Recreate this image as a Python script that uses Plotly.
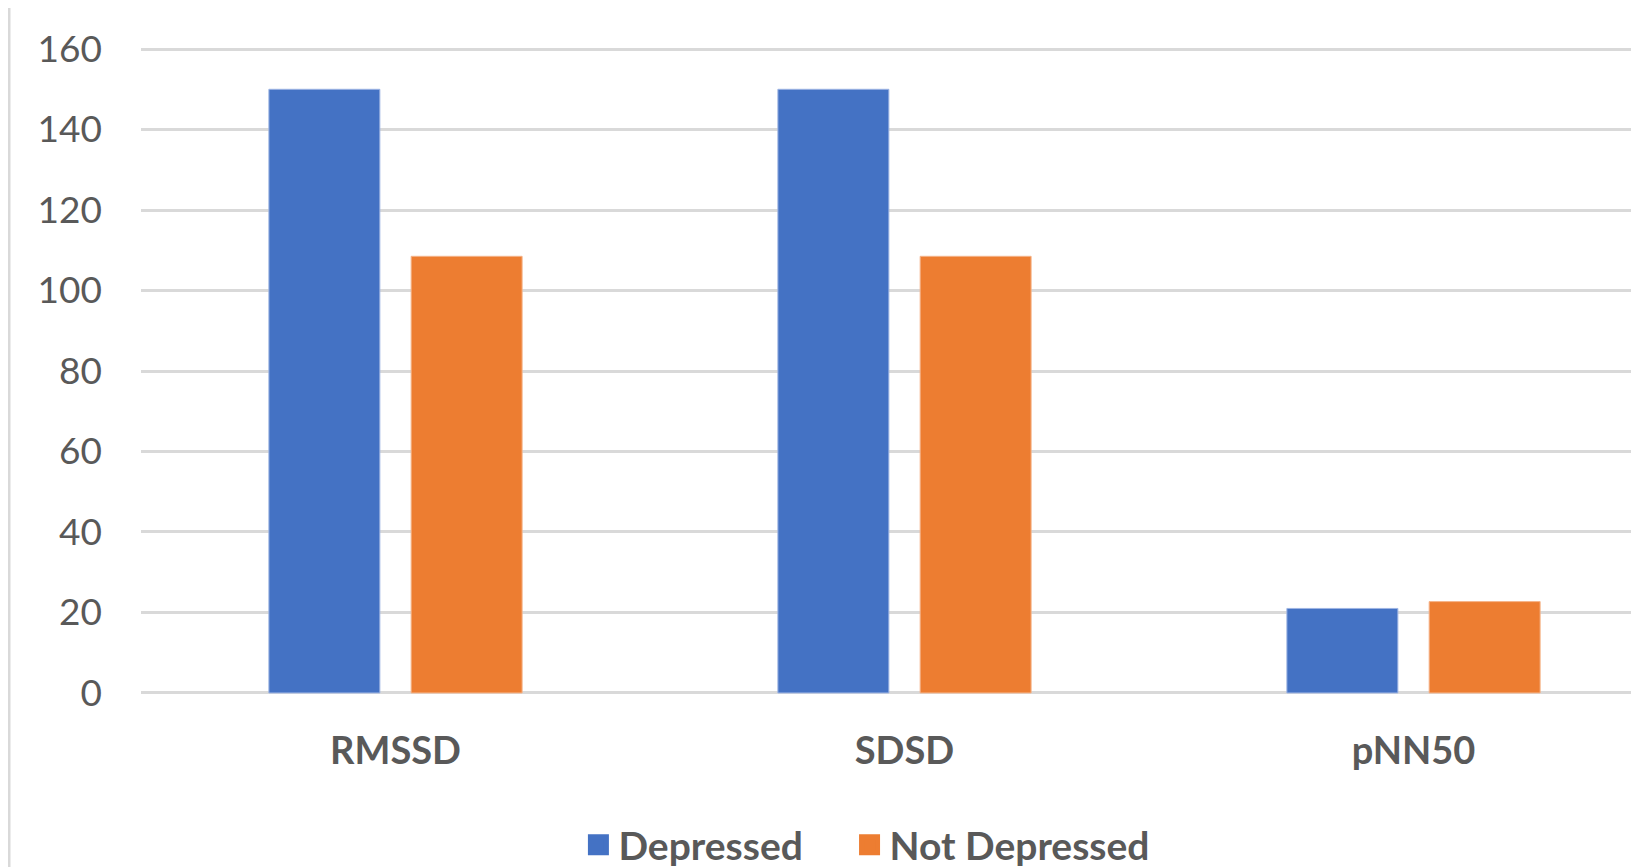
import plotly.graph_objects as go

categories = ["RMSSD", "SDSD", "pNN50"]
depressed = [150, 150, 21]
not_depressed = [108.5, 108.5, 22.7]
y_ticks = [0, 20, 40, 60, 80, 100, 120, 140, 160]

BLUE = "#4472C4"
ORANGE = "#ED7D31"
TEXT = "#595959"
GRID = "#D9D9D9"
FONT = "Lato"

# page body has an 8px default margin, so the figure is offset by 8px
W, H = 1631, 859
L, R, T, B = 133, 0, 33, 166

fig = go.Figure()
fig.add_bar(x=categories, y=depressed, name="Depressed", marker_color=BLUE,
            marker_line=dict(color="#9DB4E3", width=1), showlegend=False)
fig.add_bar(x=categories, y=not_depressed, name="Not Depressed", marker_color=ORANGE,
            marker_line=dict(color="#F5B48A", width=1), showlegend=False)
# legend proxies
fig.add_scatter(x=[None], y=[None], mode="markers", name="Depressed", legend="legend",
                marker=dict(symbol="square", size=16, color=BLUE, line=dict(color=BLUE, width=5)))
fig.add_scatter(x=[None], y=[None], mode="markers", name="Not Depressed", legend="legend2",
                marker=dict(symbol="square", size=16, color=ORANGE, line=dict(color=ORANGE, width=5)))

legend_common = dict(orientation="h", xanchor="left", y=0.0256, yanchor="middle",
                     yref="container",
                     font=dict(family=FONT, size=39, color=TEXT, weight="bold"),
                     itemsizing="trace", bgcolor="rgba(0,0,0,0)", borderwidth=0)

fig.update_layout(
    template="none",
    width=W, height=H,
    margin=dict(l=L, r=R, t=T, b=B, pad=0, autoexpand=False),
    paper_bgcolor="white", plot_bgcolor="white",
    barmode="group", bargap=0.441, bargroupgap=0.22,
    font=dict(family=FONT, color=TEXT, size=37),
    showlegend=True,
    legend=dict(x=0.292, **legend_common),
    legend2=dict(x=0.473, **legend_common),
)
fig.update_xaxes(range=[-0.5, 2.443], showgrid=False, showline=False, zeroline=False,
                 ticks="", automargin=False,
                 tickfont=dict(family=FONT, size=38, color=TEXT, weight="bold"),
                 ticklabelstandoff=24)
fig.update_yaxes(range=[-2, 162], tickvals=y_ticks, showgrid=True, gridcolor=GRID, gridwidth=3,
                 zeroline=False, showline=False, ticks="", automargin=False,
                 tickfont=dict(family=FONT, size=37, color=TEXT), ticklabelstandoff=38)
# chart border on the left
fig.add_shape(type="line", xref="paper", yref="paper",
              x0=(1 - L) / (W - L), x1=(1 - L) / (W - L), y0=-B / (H - T - B), y1=1 + T / (H - T - B),
              line=dict(color=GRID, width=3))

fig.write_html("out.html")
